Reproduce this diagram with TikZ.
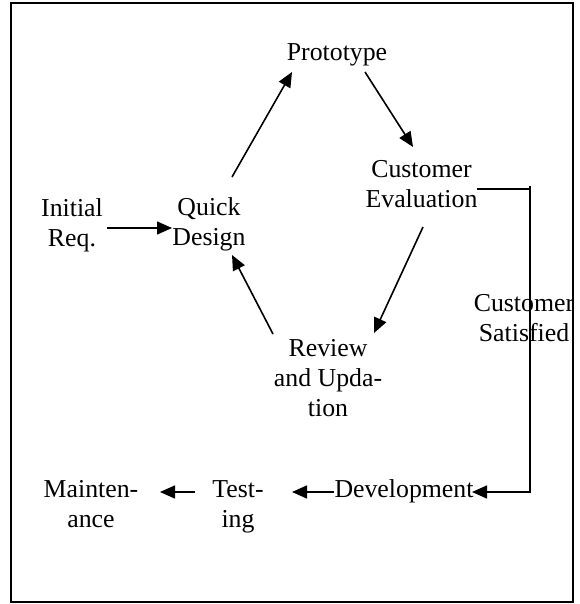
\documentclass[tikz,border=0pt]{standalone}
\usepackage{fontspec}
\setmainfont{Liberation Serif}
\usetikzlibrary{arrows.meta}

\tikzset{
  lbl/.style={inner sep=0pt, outer sep=0pt, align=center,
    font=\fontsize{25.8}{30}\selectfont},
  arr/.style={line width=1.6pt, -{Triangle[length=15pt,width=13pt]}},
  link/.style={line width=1.6pt},
  frame/.style={line width=2pt}
}

\begin{document}
\begin{tikzpicture}[x=1pt, y=-1pt]
  \useasboundingbox (0,0) rectangle (579,604);
  \draw[frame] (11,3) rectangle (572.5,602);

  % stage labels
  \node[lbl, anchor=base] (proto) at (337,61) {Prototype};
  \node[lbl] (eval)   at (421.5,184.5) {Customer\\Evaluation};
  \node[lbl] (init)   at (72,225)      {Initial\\Req.};
  \node[lbl] (quick)  at (209,224)     {Quick\\Design};
  \node[lbl] (review) at (328,378.5)   {Review\\and Upda-\\tion};
  \node[lbl] (satisf) at (524,318.3)   {Customer\\Satisfied};
  \node[lbl, anchor=base] (dev) at (404,497) {Development};
  \node[lbl] (test)   at (238,507.3)   {Test-\\ing};
  \node[lbl] (maint)  at (91,504.2)    {Mainten-\\ance};

  % prototyping cycle
  \draw[arr] ([shift={(35,3)}]init.center)     -- ([shift={(-37,4)}]quick.center);
  \draw[arr] ([shift={(23,-47)}]quick.center)  -- ([shift={(-45,11)}]proto.base);
  \draw[arr] ([shift={(28,11)}]proto.base)     -- ([shift={(-8.5,-37.5)}]eval.center);
  \draw[arr] ([shift={(1.5,42.5)}]eval.center) -- ([shift={(46,-45.5)}]review.center);
  \draw[arr] ([shift={(-55,-44.5)}]review.center) -- ([shift={(23,31)}]quick.center);

  % exit once the customer is satisfied
  \coordinate (evalout) at ([shift={(55.5,4.5)}]eval.center);
  \coordinate (rail) at (530,186);
  \draw[link] (evalout) -- (rail |- evalout);
  \draw[arr] (rail) |- ([shift={(68,-5)}]dev.base);

  % downstream phases
  \draw[arr] ([shift={(-70,-5)}]dev.base)       -- ([shift={(54,-15.3)}]test.center);
  \draw[arr] ([shift={(-43,-15.3)}]test.center) -- ([shift={(69,-12.2)}]maint.center);
\end{tikzpicture}
\end{document}
